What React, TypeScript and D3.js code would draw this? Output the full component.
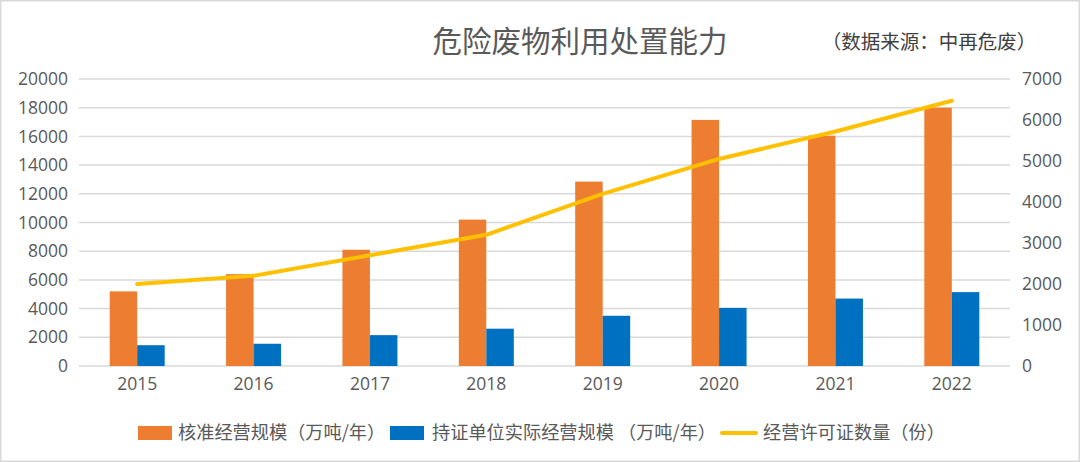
import React from "react";
import * as d3 from "d3";

const years = ["2015", "2016", "2017", "2018", "2019", "2020", "2021", "2022"];
const approvedScale = [5200, 6400, 8100, 10200, 12850, 17150, 16050, 18000];
const actualScale = [1450, 1550, 2150, 2600, 3500, 4050, 4700, 5150];
const licenseCount = [2000, 2200, 2700, 3200, 4200, 5050, 5720, 6470];
const leftTicks = [0, 2000, 4000, 6000, 8000, 10000, 12000, 14000, 16000, 18000, 20000];
const rightTicks = [0, 1000, 2000, 3000, 4000, 5000, 6000, 7000];
const seriesNames = ["核准经营规模（万吨/年）", "持证单位实际经营规模 （万吨/年）", "经营许可证数量（份）"];
const titleText = "危险废物利用处置能力";
const sourceText = "（数据来源：中再危废）";

const W = 1080;
const H = 462;
const margin = { left: 79, right: 70, top: 79, bottom: 96 };
const ORANGE = "#ED7D31";
const BLUE = "#0070C0";
const GOLD = "#FFC000";
const TEXT = "#595959";
const GRID = "#D9D9D9";
const cjk = "'Noto Sans CJK SC', 'Noto Sans', sans-serif";
const num = "'Open Sans', 'Noto Sans', sans-serif";

export default function App() {
  const x0 = margin.left;
  const x1 = W - margin.right;
  const y0 = H - margin.bottom;
  const y1 = margin.top;

  const x = d3.scaleBand<string>().domain(years).range([x0, x1]).paddingInner(0).paddingOuter(0);
  const yL = d3.scaleLinear().domain([0, 20000]).range([y0, y1]);
  const yR = d3.scaleLinear().domain([0, 7000]).range([y0, y1]);
  const bw = 27.5;

  const line = d3
    .line<number>()
    .x((_, i) => (x(years[i]) as number) + x.bandwidth() / 2)
    .y((d) => yR(d));

  return (
    <div style={{ position: "fixed", left: 0, top: 0, width: W, height: H }}>
      <svg width={W} height={H} style={{ display: "block", background: "#fff" }}>
        <rect x={0.75} y={0.75} width={W - 1.5} height={H - 1.5} fill="#fff" stroke={GRID} strokeWidth={1.5} />
        <text x={580} y={52} textAnchor="middle" fontFamily={cjk} fontSize={29.5} fill={TEXT}>
          {titleText}
        </text>
        <text x={929} y={49} textAnchor="middle" fontFamily={cjk} fontSize={19.5} fill="#404040">
          {sourceText}
        </text>

        {leftTicks.map((t) => (
          <line key={"g" + t} x1={x0} x2={x1} y1={yL(t)} y2={yL(t)} stroke={GRID} strokeWidth={1.5} />
        ))}
        {leftTicks.map((t) => (
          <text key={"l" + t} x={68} y={yL(t)} dy="0.35em" textAnchor="end" fontFamily={num} fontSize={17.5} fill={TEXT}>
            {t}
          </text>
        ))}
        {rightTicks.map((t) => (
          <text key={"r" + t} x={1022} y={yR(t)} dy="0.35em" textAnchor="start" fontFamily={num} fontSize={17.5} fill={TEXT}>
            {t}
          </text>
        ))}
        {years.map((yr) => (
          <text key={"x" + yr} x={(x(yr) as number) + x.bandwidth() / 2} y={y0 + 24} textAnchor="middle" fontFamily={num} fontSize={17.5} fill={TEXT}>
            {yr}
          </text>
        ))}

        {years.map((yr, i) => {
          const c = (x(yr) as number) + x.bandwidth() / 2;
          return (
            <g key={"b" + yr}>
              <rect x={c - bw} y={yL(approvedScale[i])} width={bw} height={y0 - yL(approvedScale[i])} fill={ORANGE} />
              <rect x={c} y={yL(actualScale[i])} width={bw} height={y0 - yL(actualScale[i])} fill={BLUE} />
            </g>
          );
        })}

        <path d={line(licenseCount) || ""} fill="none" stroke={GOLD} strokeWidth={4} strokeLinecap="round" strokeLinejoin="round" />

        <g fontFamily={cjk} fontSize={18.2} fill={TEXT}>
          <rect x={138} y={426} width={34} height={14} fill={ORANGE} />
          <text x={178} y={433} dy="0.35em">{seriesNames[0]}</text>
          <rect x={390} y={426} width={34} height={14} fill={BLUE} />
          <text x={432} y={433} dy="0.35em">{seriesNames[1]}</text>
          <line x1={722} x2={756} y1={433} y2={433} stroke={GOLD} strokeWidth={4} strokeLinecap="round" />
          <text x={763} y={433} dy="0.35em">{seriesNames[2]}</text>
        </g>
      </svg>
    </div>
  );
}
